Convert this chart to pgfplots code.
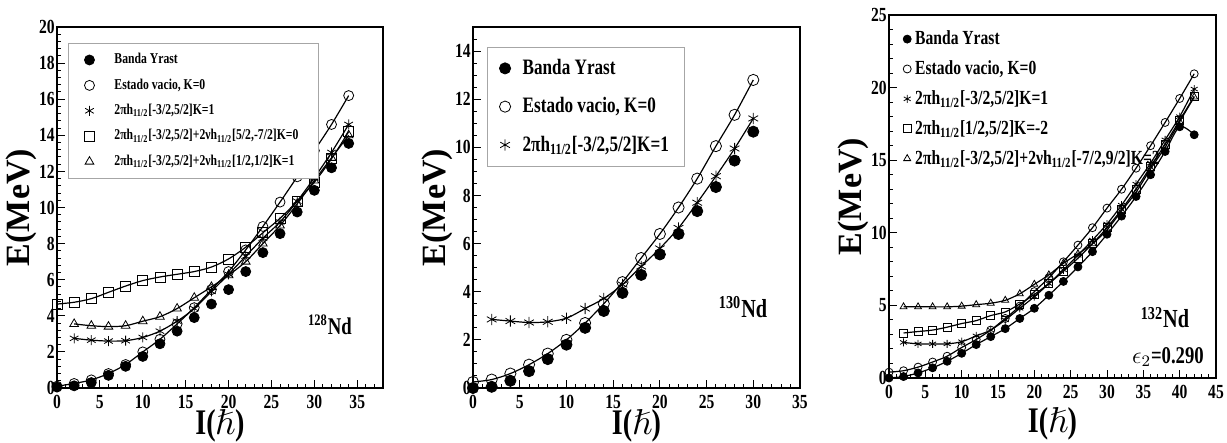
\documentclass[border=0pt]{standalone}
\usepackage{fontspec}
\usepackage{amssymb}
\setmainfont{Liberation Serif}[FakeStretch=0.78]
\newfontfamily\widefont{Liberation Serif}
\usepackage{pgfplots}
\usepackage{pgfplotstable}
\pgfplotsset{compat=1.18}

% 128Nd
\pgfplotstableread{
I E
0 0.05
2 0.12
4 0.3
6 0.7
8 1.2
10 1.75
12 2.45
14 3.15
16 3.9
18 4.65
20 5.45
22 6.45
24 7.5
26 8.55
28 9.75
30 10.95
32 12.2
34 13.55
}\yrA
\pgfplotstableread{
I E
0 0.1
2 0.25
4 0.45
6 0.8
8 1.3
10 2.0
12 2.7
14 3.55
16 4.45
18 5.45
20 6.45
22 7.65
24 8.95
26 10.3
28 11.7
30 13.15
32 14.6
34 16.2
}\evA
\pgfplotstableread{
I E
2 2.75
4 2.65
6 2.6
8 2.62
10 2.8
12 3.15
14 3.7
16 4.4
18 5.35
20 6.3
22 7.3
24 8.3
26 9.2
28 10.35
30 11.65
32 13.05
34 14.6
}\pkA
\pgfplotstableread{
I E
0 4.65
2 4.75
4 4.95
6 5.3
8 5.65
10 5.95
12 6.15
14 6.3
16 6.45
18 6.7
20 7.15
22 7.8
24 8.6
26 9.4
28 10.35
30 11.4
32 12.7
34 14.2
}\sqA
\pgfplotstableread{
I E
2 3.55
4 3.45
6 3.4
8 3.45
10 3.7
12 3.95
14 4.4
16 5.0
18 5.6
20 6.25
22 7.0
24 8.0
26 9.0
28 10.2
30 11.5
32 12.75
34 14.0
}\trA

% 130Nd
\pgfplotstableread{
I E
0 0.0
2 0.05
4 0.3
6 0.7
8 1.2
10 1.8
12 2.5
14 3.2
16 3.95
18 4.7
20 5.55
22 6.4
24 7.35
26 8.35
28 9.45
30 10.65
}\yrB
\pgfplotstableread{
I E
0 0.25
2 0.35
4 0.6
6 0.97
8 1.43
10 2.0
12 2.7
14 3.5
16 4.4
18 5.4
20 6.4
22 7.5
24 8.7
26 10.05
28 11.35
30 12.8
}\evB
\pgfplotstableread{
I E
2 2.85
4 2.78
6 2.72
8 2.75
10 2.9
12 3.3
14 3.72
16 4.3
18 5.05
20 5.8
22 6.65
24 7.7
26 8.8
28 9.95
30 11.2
}\pkB

% 132Nd
\pgfplotstableread{
I E
0 0.0
2 0.1
4 0.35
6 0.7
8 1.15
10 1.7
12 2.3
14 2.85
16 3.4
18 4.1
20 4.8
22 5.7
24 6.65
26 7.65
28 8.7
30 9.9
32 11.15
34 12.5
36 14.0
38 15.6
40 17.3
42 16.75
}\yrC
\pgfplotstableread{
I E
0 0.4
2 0.5
4 0.75
6 1.1
8 1.5
10 2.1
12 2.65
14 3.3
16 4.1
18 4.95
20 5.95
22 6.9
24 8.0
26 9.15
28 10.35
30 11.7
32 13.0
34 14.45
36 16.0
38 17.6
40 19.25
42 20.95
}\evC
\pgfplotstableread{
I E
2 2.45
4 2.35
6 2.35
8 2.35
10 2.5
12 2.9
14 3.3
16 4.0
18 4.8
20 5.6
22 6.5
24 7.45
26 8.45
28 9.5
30 10.6
32 11.9
34 13.35
36 14.8
38 16.4
40 18.0
42 19.9
}\pkC
\pgfplotstableread{
I E
2 3.1
4 3.2
6 3.3
8 3.5
10 3.75
12 3.95
14 4.3
16 4.55
18 5.1
20 5.75
22 6.5
24 7.35
26 8.25
28 9.25
30 10.35
32 11.6
34 13.0
36 14.55
38 16.1
40 17.75
42 19.4
}\sqC
\pgfplotstableread{
I E
2 4.9
4 4.9
6 4.9
8 4.9
10 4.95
12 5.05
14 5.15
16 5.35
18 5.8
20 6.45
22 7.1
24 7.9
26 8.55
28 9.25
30 10.2
32 11.5
34 12.8
36 14.4
38 15.9
40 17.65
42 19.35
}\trC

\pgfplotsset{
  rootax/.style={
    scale only axis, anchor=south west,
    axis line style={line width=0.8pt},
    tick align=inside, tick pos=left,
    major tick length=4pt, minor tick length=2pt,
    every tick/.style={black, line width=0.5pt},
    xmin=0, ymin=0, xtick distance=5, minor x tick num=4,
    tick label style={font=\fontsize{10}{10}\selectfont\bfseries},
    yticklabel style={inner xsep=1pt},
    /pgf/number format/assume math mode=true,
    xlabel={\textbf{I(}$\hslash$\textbf{)}},
    ylabel={E(MeV)},
    every axis x label/.style={at={(rel axis cs:0.5,0)}, yshift=-19pt, anchor=center,
      font=\fontsize{18}{18}\selectfont\bfseries},
    every axis y label/.style={at={(rel axis cs:0,0.5)}, xshift=-18pt, rotate=90, anchor=center,
      font=\widefont\fontsize{17}{17}\selectfont\bfseries},
    legend cell align=left,
  },
  yr/.style={only marks, mark=*, mark options={fill=black}},
  ev/.style={only marks, mark=o},
  pk/.style={only marks, mark=asterisk},
  sq/.style={only marks, mark=square},
  tr/.style={only marks, mark=triangle},
  fitline/.style={no markers, smooth, black, line width=0.6pt, forget plot},
  onemark/.style={legend image code/.code={\draw[##1] plot coordinates {(0pt,0pt)};}},
}

\begin{document}
\begin{tikzpicture}
\path[use as bounding box] (0,0) rectangle (613.5pt,221.5pt);

% ---------- 128Nd ----------
\begin{axis}[rootax, at={(28.5pt,27.5pt)}, width=163pt, height=180.5pt,
  xmax=38, ymax=20, ytick distance=2, minor y tick num=4,
  every axis plot post/.append style={mark size=2.5pt},
  legend style={at={(rel axis cs:0.034,0.956)}, anchor=north west,
    draw=gray!70, line width=0.4pt, inner xsep=8pt, inner ysep=3pt,
    font=\fontsize{7.5}{7.5}\selectfont\bfseries, row sep=2pt,
    /tikz/every odd column/.append style={column sep=8pt}},
]
\addplot[yr, onemark] table[x=I,y=E] {\yrA};
\addlegendentry{Banda Yrast}
\addplot[ev, onemark] table[x=I,y=E] {\evA};
\addlegendentry{Estado vacio, K=0}
\addplot[pk, onemark] table[x=I,y=E] {\pkA};
\addlegendentry{2πh\textsubscript{11/2}[-3/2,5/2]K=1}
\addplot[sq, onemark] table[x=I,y=E] {\sqA};
\addlegendentry{2πh\textsubscript{11/2}[-3/2,5/2]+2νh\textsubscript{11/2}[5/2,-7/2]K=0}
\addplot[tr, onemark] table[x=I,y=E] {\trA};
\addlegendentry{2πh\textsubscript{11/2}[-3/2,5/2]+2νh\textsubscript{11/2}[1/2,1/2]K=1}
\addplot[fitline] table[x=I,y=E] {\evA};
\addplot[fitline] table[x=I,y=E] {\pkA};
\addplot[fitline] table[x=I,y=E] {\sqA};
\addplot[fitline] table[x=I,y=E] {\trA};
\node[font=\fontsize{12}{12}\selectfont\bfseries] at (rel axis cs:0.837,0.175) {\textsuperscript{128}Nd};
\end{axis}

% ---------- 130Nd ----------
\begin{axis}[rootax, at={(236.5pt,27.5pt)}, width=163.5pt, height=180.5pt,
  xmax=35, ymax=15, ytick distance=2, minor y tick num=3,
  every axis plot post/.append style={mark size=2.8pt},
  legend style={at={(rel axis cs:0.043,0.945)}, anchor=north west,
    draw=gray!70, line width=0.4pt, inner xsep=6pt, inner ysep=4pt,
    font=\fontsize{11}{11}\selectfont\bfseries, row sep=6pt,
    /tikz/every odd column/.append style={column sep=4pt}},
]
\addplot[yr, onemark] table[x=I,y=E] {\yrB};
\addlegendentry{Banda Yrast}
\addplot[ev, onemark] table[x=I,y=E] {\evB};
\addlegendentry{Estado vacio, K=0}
\addplot[pk, onemark] table[x=I,y=E] {\pkB};
\addlegendentry{2πh\textsubscript{11/2}[-3/2,5/2]K=1}
\addplot[fitline] table[x=I,y=E] {\evB};
\addplot[fitline] table[x=I,y=E] {\pkB};
\node[font=\fontsize{13}{13}\selectfont\bfseries] at (rel axis cs:0.826,0.224) {\textsuperscript{130}Nd};
\end{axis}

% ---------- 132Nd ----------
\begin{axis}[rootax, at={(444.5pt,32.5pt)}, width=163.5pt, height=181.5pt,
  xmax=45, ymax=25, ytick distance=5, minor y tick num=4,
  every axis x label/.append style={yshift=-4pt},
  every axis plot post/.append style={mark size=2pt},
  legend style={at={(rel axis cs:0.03,0.98)}, anchor=north west,
    draw=none, fill=none, inner xsep=2pt, inner ysep=2pt,
    font=\fontsize{10}{10}\selectfont\bfseries, row sep=2.5pt,
    nodes={inner xsep=1pt},
    /tikz/every odd column/.append style={column sep=1pt}},
]
\addplot[yr, onemark] table[x=I,y=E] {\yrC};
\addlegendentry{Banda Yrast}
\addplot[ev, onemark] table[x=I,y=E] {\evC};
\addlegendentry{Estado vacio, K=0}
\addplot[pk, onemark] table[x=I,y=E] {\pkC};
\addlegendentry{2πh\textsubscript{11/2}[-3/2,5/2]K=1}
\addplot[sq, onemark] table[x=I,y=E] {\sqC};
\addlegendentry{2πh\textsubscript{11/2}[1/2,5/2]K=-2}
\addplot[tr, onemark] table[x=I,y=E] {\trC};
\addlegendentry{2πh\textsubscript{11/2}[-3/2,5/2]+2νh\textsubscript{11/2}[-7/2,9/2]K=2}
\addplot[fitline] table[x=I,y=E] {\yrC};
\addplot[fitline] table[x=I,y=E] {\evC};
\addplot[fitline] table[x=I,y=E] {\pkC};
\addplot[fitline] table[x=I,y=E] {\sqC};
\addplot[fitline] table[x=I,y=E] {\trC};
\node[font=\fontsize{13}{13}\selectfont\bfseries] at (rel axis cs:0.844,0.166) {\textsuperscript{132}Nd};
\node[font=\fontsize{12}{12}\selectfont\bfseries] at (rel axis cs:0.853,0.058) {$\epsilon_2$=0.290};
\end{axis}
\end{tikzpicture}
\end{document}
